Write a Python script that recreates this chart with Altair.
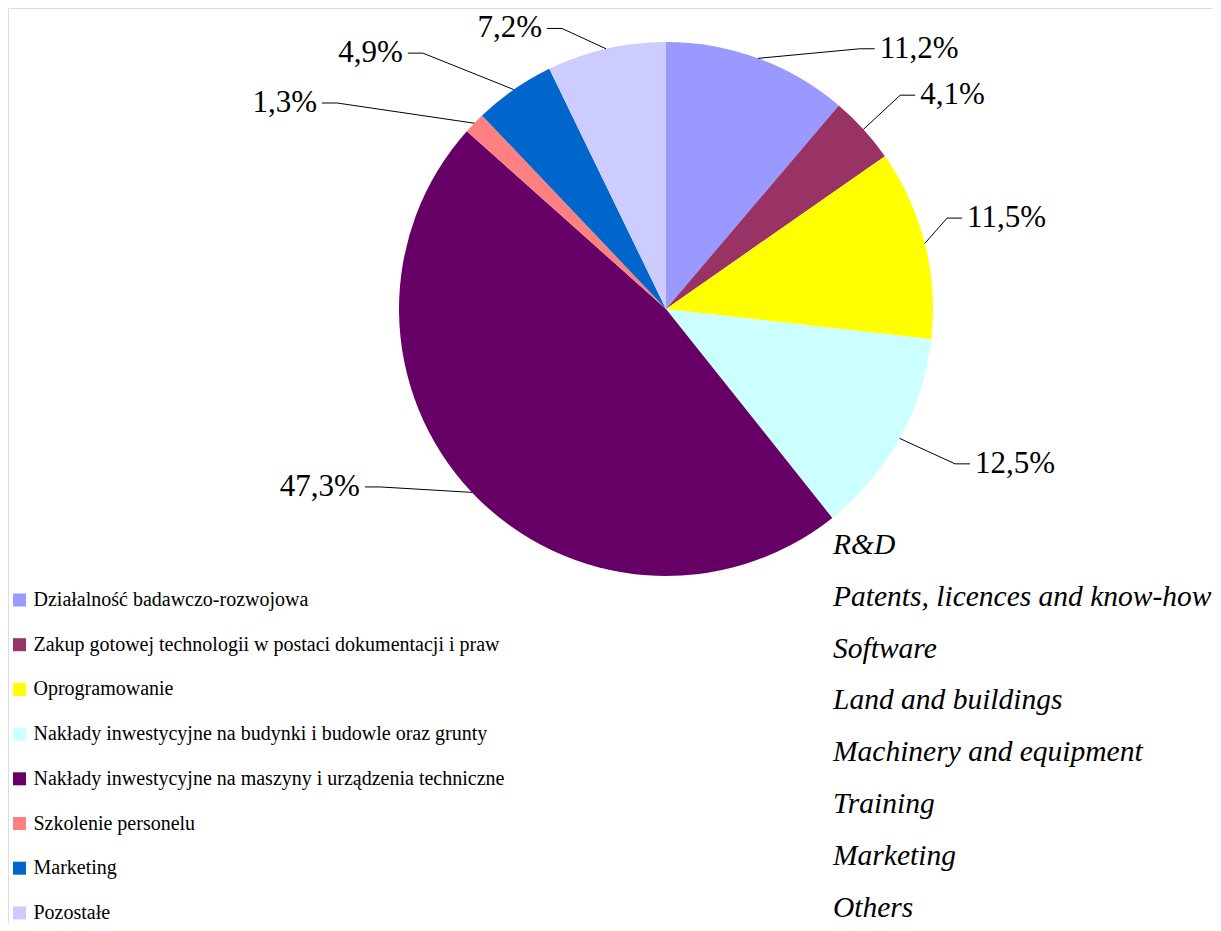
import altair as alt
import pandas as pd
import numpy as np

# ---- data ----
categories_pl = [
    "Działalność badawczo-rozwojowa",
    "Zakup gotowej technologii w postaci dokumentacji i praw",
    "Oprogramowanie",
    "Nakłady inwestycyjne na budynki i budowle oraz grunty",
    "Nakłady inwestycyjne na maszyny i urządzenia techniczne",
    "Szkolenie personelu",
    "Marketing",
    "Pozostałe",
]
categories_en = [
    "R&D",
    "Patents, licences and know-how",
    "Software",
    "Land and buildings",
    "Machinery and equipment",
    "Training",
    "Marketing",
    "Others",
]
shares = [11.2, 4.1, 11.5, 12.5, 47.3, 1.3, 4.9, 7.2]
pct_labels = ["11,2%", "4,1%", "11,5%", "12,5%", "47,3%", "1,3%", "4,9%", "7,2%"]
colors = ["#9999FF", "#993366", "#FFFF00", "#CCFFFF", "#660066", "#FF8080", "#0066CC", "#CCCCFF"]

# ---- layout ----
W, H = 1205, 915
CX, CY, R = 658, 301, 267
label_shift = [16.5, -0.1, -3.7, -0.8, 11.5, -12.05, -8.8, -7.38]   # degrees
label_radius = [324.4, 317.1, 295.4, 327.9, 336.9, 388.2, 353, 299.2]
HSEG, GAP = 15, 5
FONT = "Liberation Serif"

n = len(shares)
total = sum(shares)
cum = np.cumsum(shares)
start = cum - np.array(shares)
mid = np.radians((start + np.array(shares) / 2) / total * 360)

pie_df = pd.DataFrame({"cat": categories_pl, "share": shares, "idx": range(n)})

line_rows, text_rows = [], []
for i in range(n):
    a = mid[i]
    sx, sy = CX + R * np.sin(a), CY - R * np.cos(a)
    b = a + np.radians(label_shift[i])
    ex, ey = CX + label_radius[i] * np.sin(b), CY - label_radius[i] * np.cos(b)
    side = 1 if np.sin(b) > 0 else -1
    ox = ex + side * HSEG
    for k, (px, py) in enumerate([(sx, sy), (ex, ey), (ox, ey)]):
        line_rows.append({"id": i, "k": k, "x": px, "y": py})
    text_rows.append({"label": pct_labels[i], "x": ox + side * GAP, "y": ey,
                      "align": "left" if side > 0 else "right"})
line_df = pd.DataFrame(line_rows)
text_df = pd.DataFrame(text_rows)

leg_pl = pd.DataFrame({"cat": categories_pl, "idx": range(n),
                       "x": [11.5] * n, "y": [592 + i * 44.7 for i in range(n)]})
leg_en = pd.DataFrame({"cat": categories_en,
                       "x": [825] * n, "y": [537 + i * 51.8 for i in range(n)]})

xs = alt.Scale(domain=[0, W], range=[0, W], nice=False, zero=False)
ys = alt.Scale(domain=[0, H], range=[0, H], nice=False, zero=False)
color_scale = alt.Scale(domain=categories_pl, range=colors)

pie = alt.Chart(pie_df).mark_arc(outerRadius=R, strokeWidth=0).encode(
    theta=alt.Theta("share:Q", stack=True),
    color=alt.Color("cat:N", scale=color_scale, legend=None),
    order=alt.Order("idx:Q"),
    x=alt.value(CX),
    y=alt.value(CY),
)

leaders = alt.Chart(line_df).mark_line(color="#000000", strokeWidth=1).encode(
    x=alt.X("x:Q", scale=xs, axis=None),
    y=alt.Y("y:Q", scale=ys, axis=None),
    detail="id:N",
    order="k:Q",
)

left_lbl = alt.Chart(text_df[text_df["align"] == "right"]).mark_text(
    font=FONT, fontSize=31, align="right", baseline="middle", color="#000000"
).encode(x=alt.X("x:Q", scale=xs, axis=None), y=alt.Y("y:Q", scale=ys, axis=None), text="label:N")

right_lbl = alt.Chart(text_df[text_df["align"] == "left"]).mark_text(
    font=FONT, fontSize=31, align="left", baseline="middle", color="#000000"
).encode(x=alt.X("x:Q", scale=xs, axis=None), y=alt.Y("y:Q", scale=ys, axis=None), text="label:N")

leg_sq = alt.Chart(leg_pl).mark_square(size=169, opacity=1, strokeWidth=0).encode(
    x=alt.X("x:Q", scale=xs, axis=None),
    y=alt.Y("y:Q", scale=ys, axis=None),
    color=alt.Color("cat:N", scale=color_scale, legend=None),
)
leg_txt = alt.Chart(leg_pl).mark_text(
    font=FONT, fontSize=20, align="left", baseline="middle", dx=14, color="#000000"
).encode(x=alt.X("x:Q", scale=xs, axis=None), y=alt.Y("y:Q", scale=ys, axis=None), text="cat:N")

en_txt = alt.Chart(leg_en).mark_text(
    font=FONT, fontSize=29.5, fontStyle="italic", align="left", baseline="middle", color="#000000"
).encode(x=alt.X("x:Q", scale=xs, axis=None), y=alt.Y("y:Q", scale=ys, axis=None), text="cat:N")

chart = alt.layer(pie, leaders, left_lbl, right_lbl, leg_sq, leg_txt, en_txt).properties(
    width=W, height=H, autosize=alt.AutoSizeParams(type="none"), padding=0
).configure_view(strokeWidth=0, stroke="transparent").configure(background="#ffffff")

chart.save("out.html", embed_options={"renderer": "svg", "actions": False})
